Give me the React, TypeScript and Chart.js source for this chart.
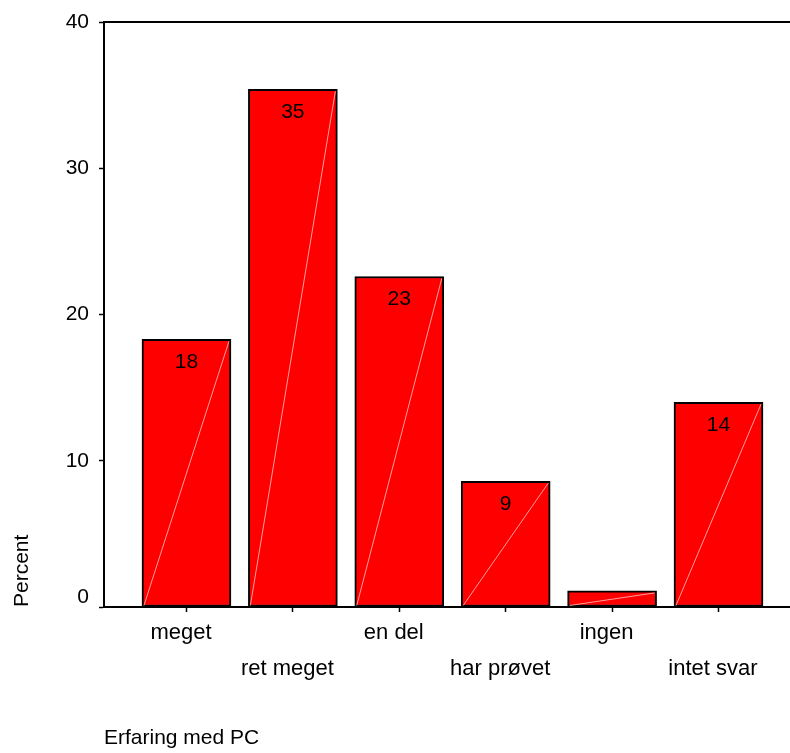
import React, { useEffect, useRef } from 'react';
import { Chart, registerables } from 'chart.js';

Chart.register(...registerables);

const categories = ['meget', 'ret meget', 'en del', 'har prøvet', 'ingen', 'intet svar'];
const percentValues = [18.3, 35.4, 22.6, 8.6, 1.1, 14.0];
const yTicks = [0, 10, 20, 30, 40];
const xTitle = 'Erfaring med PC';
const yTitle = 'Percent';

const FONT = '"Liberation Sans", Arial, Helvetica, sans-serif';

export default function App() {
  const ref = useRef<HTMLCanvasElement>(null);

  useEffect(() => {
    const canvas = ref.current;
    if (!canvas) return;

    const decor = {
      id: 'barDecor',
      afterDatasetsDraw(chart: any) {
        const ctx = chart.ctx;
        const meta = chart.getDatasetMeta(0);
        meta.data.forEach((bar: any, i: number) => {
          const { x, y, base, width } = bar.getProps(['x', 'y', 'base', 'width'], true);
          const left = x - width / 2 + 2;
          const right = x + width / 2 - 2;
          ctx.save();
          ctx.strokeStyle = 'rgba(255,175,175,0.9)';
          ctx.lineWidth = 1;
          ctx.beginPath();
          ctx.moveTo(left, base - 1);
          ctx.lineTo(right, y + 2);
          ctx.stroke();
          if (base - y > 40) {
            ctx.fillStyle = '#000';
            ctx.font = `21px ${FONT}`;
            ctx.textAlign = 'center';
            ctx.textBaseline = 'middle';
            ctx.fillText(String(Math.round(percentValues[i])), x, y + 23);
          }
          ctx.restore();
        });
      },
      afterDraw(chart: any) {
        const { ctx, chartArea } = chart;
        ctx.save();
        ctx.strokeStyle = '#000';
        ctx.lineWidth = 2;
        ctx.beginPath();
        ctx.moveTo(chartArea.left - 1, chartArea.top);
        ctx.lineTo(chartArea.right, chartArea.top);
        ctx.stroke();
        ctx.restore();
      },
    };

    const chart = new Chart(canvas, {
      type: 'bar',
      data: {
        datasets: [
          {
            data: categories.map((c, i) => ({ x: i, y: percentValues[i] })),
            backgroundColor: '#ff0000',
            borderColor: '#000000',
            borderWidth: 2,
            borderSkipped: false,
            barThickness: 89,
          } as any,
        ],
      },
      options: {
        animation: false,
        responsive: false,
        devicePixelRatio: 1,
        layout: { padding: { top: 22, right: 0, bottom: 0, left: 0 } },
        plugins: {
          legend: { display: false },
          tooltip: { enabled: false },
        },
        scales: {
          x: {
            type: 'linear',
            offset: false,
            min: -0.775,
            max: 5.672,
            afterBuildTicks: (s: any) => {
              s.ticks = categories.map((_, i) => ({ value: i }));
            },
            afterFit: (s: any) => {
              s.height = 146;
            },
            ticks: {
              autoSkip: false,
              maxRotation: 0,
              minRotation: 0,
              padding: 3,
              color: '#000',
              font: { family: FONT, size: 22, lineHeight: 1.62 },
              callback: (v: any) => {
                const i = Math.round(Number(v));
                const t = categories[i] + '\u2002';
                return i % 2 === 0 ? [t] : ['', t];
              },
            },
            grid: {
              offset: false,
              drawOnChartArea: false,
              drawTicks: true,
              tickLength: 5,
              color: '#000',
              tickWidth: 1.5,
            },
            border: { display: true, color: '#000', width: 2 },
            title: {
              display: true,
              text: xTitle,
              align: 'start',
              color: '#000',
              font: { family: FONT, size: 21 },
              padding: { top: 0, bottom: 2 },
            },
          },
          y: {
            min: 0,
            max: 40,
            afterBuildTicks: (s: any) => {
              s.ticks = yTicks.map((v) => ({ value: v }));
            },
            afterFit: (s: any) => {
              s.width = 104;
            },
            ticks: {
              padding: 10,
              color: '#000',
              font: { family: FONT, size: 21, lineHeight: 0.95 },
              callback: (v: any) => (Number(v) === 0 ? ['0', ''] : String(v)),
            },
            grid: {
              drawOnChartArea: false,
              drawTicks: true,
              tickLength: 5,
              color: '#000',
              tickWidth: 1.5,
            },
            border: { display: true, color: '#000', width: 2 },
            title: {
              display: true,
              text: yTitle,
              align: 'start',
              color: '#000',
              font: { family: FONT, size: 21 },
              padding: { top: 10, bottom: 0 },
            },
          },
        },
      } as any,
      plugins: [decor],
    });

    return () => chart.destroy();
  }, []);

  return (
    <div style={{ position: 'absolute', left: 0, top: 0, width: 790, height: 753, background: '#fff' }}>
      <canvas ref={ref} width={790} height={753} style={{ display: 'block' }} />
    </div>
  );
}
